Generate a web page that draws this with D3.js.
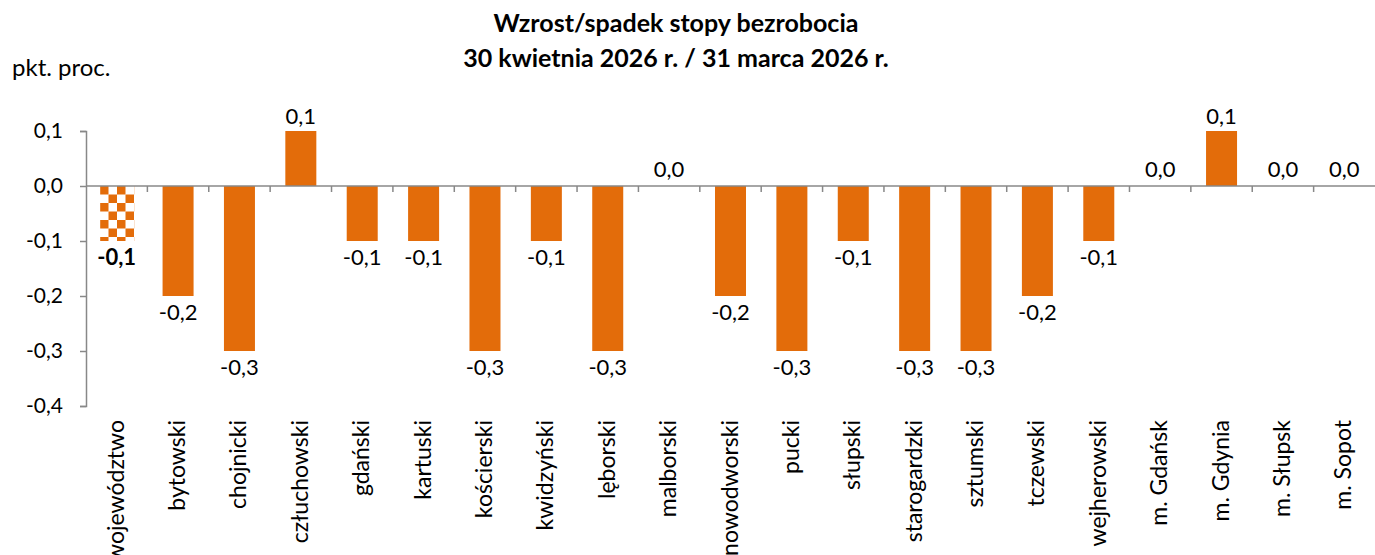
<!DOCTYPE html>
<html><head><meta charset="utf-8">
<script src="https://cdn.jsdelivr.net/npm/d3@7"></script>
<style>body{margin:0;background:#fff}</style>
</head><body>
<svg id="c" width="1375" height="555"></svg>
<script>
const categories = ["województwo","bytowski","chojnicki","człuchowski","gdański","kartuski","kościerski","kwidzyński","lęborski","malborski","nowodworski","pucki","słupski","starogardzki","sztumski","tczewski","wejherowski","m. Gdańsk","m. Gdynia","m. Słupsk","m. Sopot"];
const values = [-0.1,-0.2,-0.3,0.1,-0.1,-0.1,-0.3,-0.1,-0.3,0.0,-0.2,-0.3,-0.1,-0.3,-0.3,-0.2,-0.1,0.0,0.1,0.0,0.0];
const yTicks = [0.1,0.0,-0.1,-0.2,-0.3,-0.4];
const titleLines = ["Wzrost/spadek stopy bezrobocia","30 kwietnia 2026 r. / 31 marca 2026 r."];
const unitLabel = "pkt. proc.";

const font = "Lato, 'Open Sans', sans-serif";
const orange = "#E36C0A";
const svg = d3.select("#c");
const xb = d3.scaleBand().domain(categories).range([86,1375]);
const y = d3.scaleLinear().domain([-0.4,0.1]).range([406,131]);
const fmt = v => d3.format(".1f")(v).replace(".",",").replace("−","-");

// pattern
const defs = svg.append("defs");
const p = defs.append("pattern").attr("id","chk").attr("patternUnits","userSpaceOnUse")
  .attr("width",17).attr("height",17).attr("x",100).attr("y",186);
p.append("rect").attr("width",17).attr("height",17).attr("fill","#fff");
p.append("rect").attr("x",0).attr("y",0).attr("width",8.5).attr("height",8.5).attr("fill",orange);
p.append("rect").attr("x",8.5).attr("y",8.5).attr("width",8.5).attr("height",8.5).attr("fill",orange);

// title
svg.append("text").attr("text-anchor","middle")
  .style("font-family",font).style("font-weight","bold").style("font-size","25px")
  .selectAll("tspan").data(titleLines).join("tspan").attr("x",676).attr("y",(d,i)=>32+i*35).text(d=>d);
svg.append("text").attr("x",12).attr("y",76).text(unitLabel)
  .style("font-family",font).style("font-size","24px").attr("fill","#000");

// bars
const bw = 31;
svg.selectAll("rect.bar").data(values).join("rect").attr("class","bar")
  .attr("x",(d,i)=>xb(categories[i])+xb.bandwidth()/2-bw/2 + (i===0?-1:0))
  .attr("width",(d,i)=>i===0?34:bw)
  .attr("y",d=>y(Math.max(0,d))).attr("height",d=>Math.abs(y(d)-y(0)))
  .attr("fill",(d,i)=>i===0?"url(#chk)":orange);

// y axis
const ya = svg.append("g").attr("transform","translate(86,0)")
  .call(d3.axisLeft(y).tickValues(yTicks).tickSize(6).tickFormat(fmt));
ya.select(".domain").attr("stroke","#888").attr("stroke-width",1.5);
ya.selectAll(".tick line").attr("stroke","#888").attr("stroke-width",1.5);
ya.selectAll("text").style("font-family",font).style("font-size","21px").attr("fill","#000").attr("x",-23);

// x axis line at zero with ticks at band boundaries
svg.append("line").attr("x1",86).attr("x2",1375).attr("y1",y(0)).attr("y2",y(0)).attr("stroke","#888").attr("stroke-width",1.5);
svg.selectAll("line.xt").data(categories.slice(1)).join("line").attr("class","xt")
  .attr("x1",d=>xb(d)).attr("x2",d=>xb(d)).attr("y1",y(0)).attr("y2",y(0)+6)
  .attr("stroke","#888").attr("stroke-width",1.5);

// category labels
svg.selectAll("text.cat").data(categories).join("text").attr("class","cat")
  .attr("transform",d=>`translate(${xb(d)+xb.bandwidth()/2+7},420) rotate(-90)`)
  .attr("text-anchor","end").text(d=>d)
  .style("font-family",font).style("font-size","23px").attr("fill","#000");

// value labels
svg.selectAll("text.val").data(values).join("text").attr("class","val")
  .attr("x",(d,i)=>xb(categories[i])+xb.bandwidth()/2)
  .attr("y",d=>d<0?y(d)+24:(d>0?y(d)-7:y(d)-9))
  .attr("text-anchor","middle").text(fmt)
  .style("font-family",font).style("font-size","22px")
  .style("font-weight",(d,i)=>i===0?"bold":"normal").attr("fill","#000");
</script>
</body></html>
